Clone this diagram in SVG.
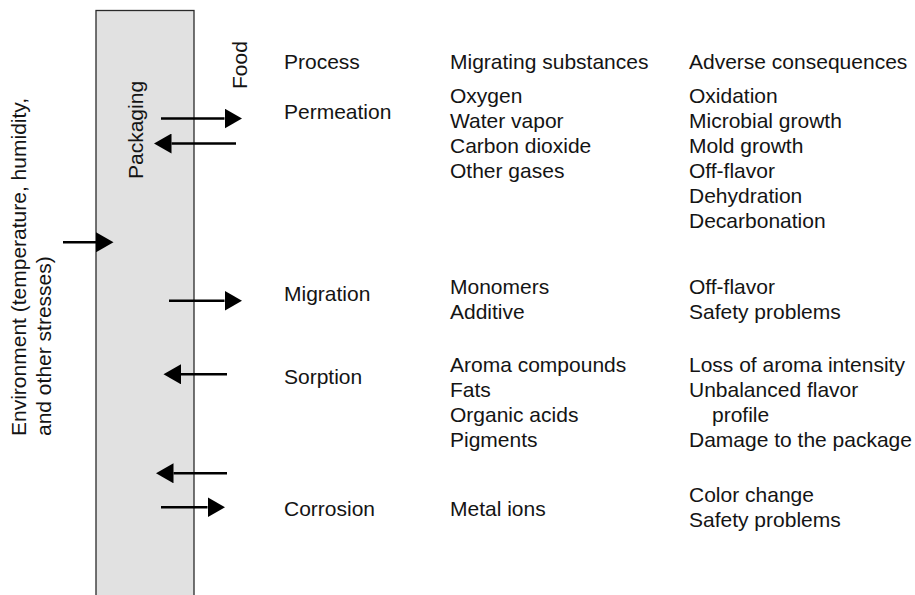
<svg xmlns="http://www.w3.org/2000/svg" width="915" height="595" viewBox="0 0 915 595">
<style>
text{font-family:"Liberation Sans",Arial,Helvetica,sans-serif;font-size:21px;fill:#141414}
.ln{stroke:#000;stroke-width:2.4;fill:none}
</style>
<defs>
<marker id="ah" markerUnits="userSpaceOnUse" markerWidth="18" markerHeight="20" refX="0" refY="10" orient="auto" viewBox="0 0 18 20">
<path d="M0,0 L17.5,10 L0,20 z" fill="#000"/>
</marker>
</defs>
<rect width="915" height="595" fill="#fff"/>
<g id="packaging">
<rect x="96" y="10.5" width="98" height="600" fill="#e1e1e1" stroke="#2a2a2a" stroke-width="1.3"/>
<text transform="translate(143,179) rotate(-90)">Packaging</text>
</g>
<g id="food">
<text transform="translate(247,89) rotate(-90)">Food</text>
</g>
<g id="environment">
<text transform="translate(25.5,436) rotate(-90)">Environment (temperature, humidity,</text>
<text transform="translate(50.5,436) rotate(-90)">and other stresses)</text>
</g>
<g id="connectors">
<line class="ln" x1="161" y1="118.5" x2="224.5" y2="118.5" marker-end="url(#ah)"/>
<line class="ln" x1="236" y1="143.5" x2="171.5" y2="143.5" marker-end="url(#ah)"/>
<line class="ln" x1="63" y1="242.3" x2="96" y2="242.3" marker-end="url(#ah)"/>
<line class="ln" x1="169" y1="300.7" x2="224.5" y2="300.7" marker-end="url(#ah)"/>
<line class="ln" x1="227" y1="374.3" x2="181" y2="374.3" marker-end="url(#ah)"/>
<line class="ln" x1="227" y1="473.3" x2="173.5" y2="473.3" marker-end="url(#ah)"/>
<line class="ln" x1="161" y1="507.3" x2="207.5" y2="507.3" marker-end="url(#ah)"/>
</g>
<g id="headers">
<text x="284" y="68.5">Process</text>
<text x="450" y="68.5">Migrating substances</text>
<text x="689" y="68.5">Adverse consequences</text>
</g>
<g id="permeation">
<text x="284" y="119">Permeation</text>
<text x="450" y="103">Oxygen</text>
<text x="450" y="128">Water vapor</text>
<text x="450" y="153">Carbon dioxide</text>
<text x="450" y="178">Other gases</text>
<text x="689" y="103">Oxidation</text>
<text x="689" y="128">Microbial growth</text>
<text x="689" y="153">Mold growth</text>
<text x="689" y="178">Off-flavor</text>
<text x="689" y="203">Dehydration</text>
<text x="689" y="228">Decarbonation</text>
</g>
<g id="migration">
<text x="284" y="301">Migration</text>
<text x="450" y="293.5">Monomers</text>
<text x="450" y="318.5">Additive</text>
<text x="689" y="293.5">Off-flavor</text>
<text x="689" y="318.5">Safety problems</text>
</g>
<g id="sorption">
<text x="284" y="384">Sorption</text>
<text x="450" y="371.5">Aroma compounds</text>
<text x="450" y="396.5">Fats</text>
<text x="450" y="421.5">Organic acids</text>
<text x="450" y="446.5">Pigments</text>
<text x="689" y="371.5">Loss of aroma intensity</text>
<text x="689" y="396.5">Unbalanced flavor</text>
<text x="712" y="421.5">profile</text>
<text x="689" y="446.5">Damage to the package</text>
</g>
<g id="corrosion">
<text x="284" y="515.5">Corrosion</text>
<text x="450" y="515.5">Metal ions</text>
<text x="689" y="502">Color change</text>
<text x="689" y="527">Safety problems</text>
</g>
</svg>
